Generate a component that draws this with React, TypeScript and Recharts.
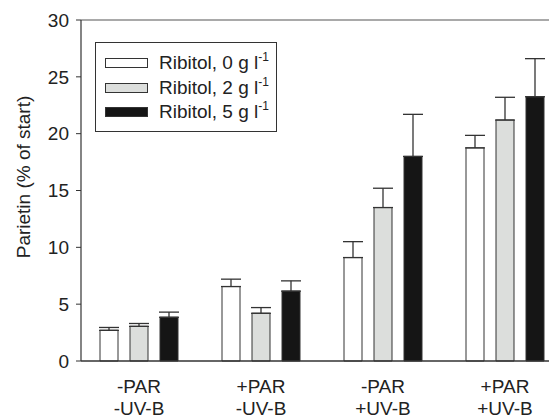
import { BarChart, Bar, XAxis, YAxis, ErrorBar, ReferenceLine } from "recharts";

const categories = ["-PAR\n-UV-B", "+PAR\n-UV-B", "-PAR\n+UV-B", "+PAR\n+UV-B"];
const ribitol0 = [2.7, 6.55, 9.1, 18.75];
const ribitol0Err = [0.25, 0.65, 1.4, 1.1];
const ribitol2 = [3.05, 4.2, 13.5, 21.2];
const ribitol2Err = [0.25, 0.5, 1.7, 2.0];
const ribitol5 = [3.85, 6.15, 18.0, 23.25];
const ribitol5Err = [0.45, 0.9, 3.7, 3.35];
const yTicks = [0, 5, 10, 15, 20, 25, 30];

const series = [
  { key: "r0", label: "0", fill: "#ffffff" },
  { key: "r2", label: "2", fill: "#dcdedc" },
  { key: "r5", label: "5", fill: "#151515" },
];

const data = categories.map((name, i) => ({
  name,
  r0: ribitol0[i],
  r0e: [0, ribitol0Err[i]],
  r2: ribitol2[i],
  r2e: [0, ribitol2Err[i]],
  r5: ribitol5[i],
  r5e: [0, ribitol5Err[i]],
}));

const font = "Arial, 'Liberation Sans', Helvetica, sans-serif";

function XTick(props: any) {
  const { x, y, payload } = props;
  const lines = String(payload.value).split("\n");
  return (
    <text x={x} y={y} textAnchor="middle" fill="#222" fontSize={19} fontFamily={font}>
      {lines.map((l, i) => (
        <tspan key={i} x={x} dy={i === 0 ? 24 : 22}>
          {l}
        </tspan>
      ))}
    </text>
  );
}

function LegendBox() {
  return (
    <div
      style={{
        position: "absolute",
        left: 87,
        top: 34,
        border: "1px solid #333",
        width: 182,
        height: 90,
        boxSizing: "border-box",
        background: "#fff",
        fontFamily: font,
        fontSize: 19,
        color: "#222",
        paddingTop: 8,
        paddingLeft: 9,
      }}
    >
      {series.map((s) => (
        <div key={s.key} style={{ display: "flex", alignItems: "center", height: 24.5, whiteSpace: "nowrap" }}>
          <div
            style={{
              width: 43,
              height: 10,
              background: s.fill,
              border: "1px solid #333",
              boxSizing: "border-box",
              marginRight: 11,
              flexShrink: 0,
            }}
          />
          <span>
            Ribitol, {s.label} g l<sup style={{ fontSize: 12, verticalAlign: "8px", lineHeight: 0 }}>-1</sup>
          </span>
        </div>
      ))}
    </div>
  );
}

function YLabel() {
  return (
    <text
      x={15}
      y={169}
      transform="rotate(-90 15 169)"
      textAnchor="middle"
      dominantBaseline="central"
      fill="#222"
      fontSize={19}
      fontFamily={font}
    >
      Parietin (% of start)
    </text>
  );
}

export default function App() {
  return (
    <div style={{ position: "relative", width: 549, height: 410, overflow: "hidden" }}>
      <BarChart
        width={561}
        height={410}
        data={data}
        margin={{ top: 12, right: 0, bottom: 0, left: 0 }}
        barSize={18}
        barGap={12}
      >
        <XAxis
          dataKey="name"
          tick={<XTick />}
          tickLine={false}
          axisLine={{ stroke: "#333", strokeWidth: 1.5 }}
          height={57}
          interval={0}
          padding={{ left: -3, right: 3 }}
        />
        <YAxis
          domain={[0, 30]}
          ticks={yTicks}
          width={73}
          tickSize={5}
          tickMargin={7}
          tick={{ fill: "#222", fontSize: 19, fontFamily: font }}
          tickLine={{ stroke: "#333" }}
          axisLine={{ stroke: "#333", strokeWidth: 1.2 }}
          label={<YLabel />}
        />
        <ReferenceLine y={30} stroke="#555" strokeWidth={1.2} />
        {series.map((s) => (
          <Bar
            key={s.key}
            dataKey={s.key}
            fill={s.fill}
            stroke="#333"
            strokeWidth={1}
            isAnimationActive={false}
          >
            <ErrorBar dataKey={s.key + "e"} width={10} stroke="#333" strokeWidth={1.3} direction="y" />
          </Bar>
        ))}
      </BarChart>
      <LegendBox />
    </div>
  );
}
